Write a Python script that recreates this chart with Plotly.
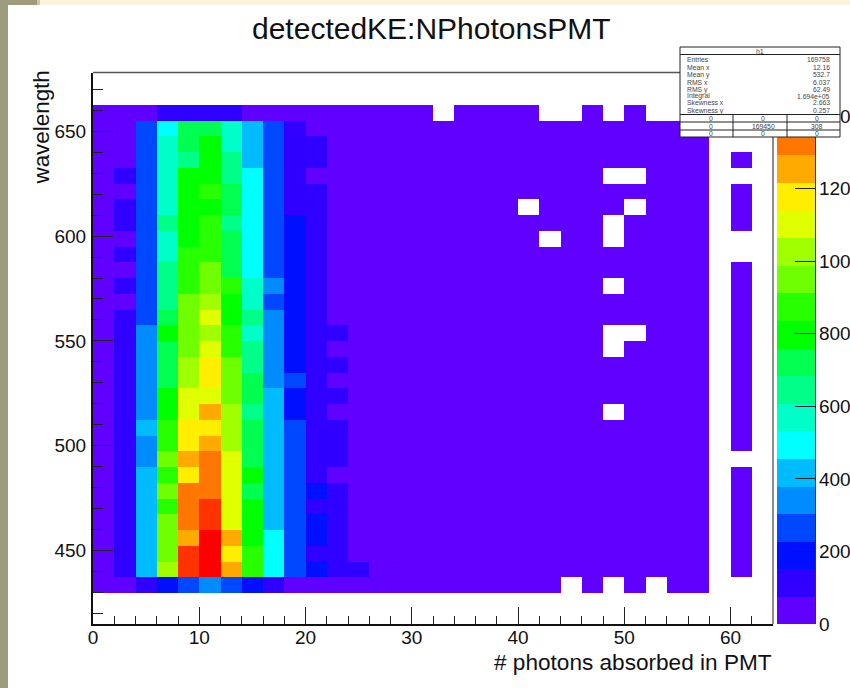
import plotly.graph_objects as go

# ---------- data ----------
wavelength_centers = [658.75, 651.25, 643.75, 636.25, 628.75, 621.25, 613.75, 606.25, 598.75, 591.25, 583.75,
                      576.25, 568.75, 561.25, 553.75, 546.25, 538.75, 531.25, 523.75, 516.25, 508.75,
                      501.25, 493.75, 486.25, 478.75, 471.25, 463.75, 456.25, 448.75, 441.25, 433.75]
photon_centers = [1, 3, 5, 7, 9, 11, 13, 15, 17, 19, 21, 23, 25, 27, 29, 31, 33, 35, 37, 39, 41, 43, 45, 47,
                  49, 51, 53, 55, 57, 59, 61]

# counts of the first 14 photon bins, one row per wavelength bin, top row first
core_counts = [
    [38, 38, 38, 114, 114, 114, 114, 38, 38, 38, 38, 38, 38, 38],
    [38, 38, 266, 494, 722, 722, 570, 418, 266, 114, 38, 38, 38, 38],
    [38, 38, 266, 570, 722, 798, 570, 418, 266, 114, 114, 38, 38, 38],
    [38, 38, 266, 570, 646, 798, 646, 418, 266, 114, 114, 38, 38, 38],
    [38, 114, 266, 570, 798, 798, 646, 494, 266, 114, 38, 38, 38, 38],
    [38, 38, 266, 570, 798, 874, 722, 494, 266, 114, 114, 38, 38, 38],
    [38, 114, 266, 570, 798, 798, 722, 494, 266, 114, 114, 38, 38, 38],
    [38, 114, 266, 646, 798, 874, 646, 494, 266, 190, 114, 38, 38, 38],
    [38, 38, 266, 570, 798, 874, 722, 494, 266, 190, 114, 38, 38, 38],
    [38, 114, 266, 570, 874, 874, 722, 494, 266, 190, 114, 38, 38, 38],
    [38, 38, 266, 646, 874, 950, 722, 494, 266, 190, 114, 38, 38, 38],
    [38, 114, 266, 646, 874, 950, 874, 570, 342, 190, 114, 38, 38, 38],
    [38, 38, 266, 646, 950, 1026, 798, 570, 266, 190, 114, 38, 38, 38],
    [38, 114, 266, 722, 950, 1102, 798, 646, 342, 190, 114, 38, 38, 38],
    [38, 114, 342, 798, 950, 1026, 874, 570, 342, 190, 114, 114, 38, 38],
    [38, 114, 342, 722, 950, 1102, 874, 646, 342, 190, 114, 38, 38, 38],
    [38, 114, 342, 722, 1026, 1178, 950, 646, 342, 190, 114, 114, 38, 38],
    [38, 114, 342, 722, 1026, 1178, 950, 722, 342, 266, 114, 38, 38, 38],
    [38, 114, 342, 798, 1102, 1102, 950, 722, 418, 190, 114, 114, 38, 38],
    [38, 114, 342, 798, 1102, 1254, 1026, 646, 418, 190, 114, 38, 38, 38],
    [38, 114, 418, 874, 1178, 1178, 1026, 722, 418, 266, 114, 114, 38, 38],
    [38, 114, 342, 874, 1178, 1254, 1026, 722, 418, 266, 114, 114, 38, 38],
    [38, 114, 342, 950, 1254, 1330, 1102, 722, 418, 266, 114, 114, 38, 38],
    [38, 114, 418, 874, 1178, 1330, 1102, 798, 418, 266, 114, 38, 38, 38],
    [38, 114, 418, 950, 1330, 1330, 1102, 722, 418, 266, 190, 114, 38, 38],
    [38, 114, 418, 874, 1330, 1406, 1102, 798, 418, 266, 114, 114, 38, 38],
    [38, 114, 418, 950, 1330, 1406, 1102, 798, 418, 266, 190, 114, 38, 38],
    [38, 114, 418, 950, 1254, 1482, 1254, 798, 494, 266, 190, 114, 38, 38],
    [38, 114, 418, 950, 1406, 1482, 1178, 874, 494, 266, 114, 114, 38, 38],
    [38, 114, 418, 1026, 1406, 1482, 1254, 874, 494, 266, 190, 114, 114, 38],
    [38, 38, 114, 190, 266, 342, 266, 190, 114, 38, 38, 38, 38, 38],
]
tail_count = 38   # the flat tail level beyond the core
# bins of the tail that are empty: wavelength row -> photon bin indexes
empty_bins = {
    0: [16, 21, 22, 24, 26, 27, 28], 4: [24, 25], 6: [20, 25], 7: [24], 8: [21, 24], 11: [24],
    14: [24, 25], 15: [24], 19: [24], 30: [22, 24, 26],
}
last_column_rows = [3, 5, 6, 7, 10, 11, 12, 13, 14, 15, 16, 17, 18, 19, 20, 21, 23, 24, 25, 26, 27, 28, 29]

band_colors = ["#6000ff", "#2f00ff", "#0010ff", "#0048ff", "#008cff", "#00bcff", "#00ffff", "#00ffc8",
               "#00ff88", "#00ff50", "#00ff00", "#28ff00", "#70ff00", "#a0ff00", "#e0ff00", "#ffee00",
               "#ffaa00", "#ff7700", "#ff3300", "#ff0000"]
palette_levels = [38, 114, 190, 266, 342, 418, 494, 570, 646, 722, 798, 874, 950, 1026, 1102, 1178, 1254, 1330,
                  1406, 1482]
palette_ticks = [0, 200, 400, 600, 800, 1000, 1200, 1400]

stat_labels = ["Entries", "Mean x", "Mean y", "RMS x", "RMS y", "Integral", "Skewness x", "Skewness y"]
stat_values = ["169758", "12.16", "532.7", "6.037", "62.49", "1.694e+05", "2.663", "0.257"]
overflow_rows = [["0", "0", "0"], ["0", "169450", "308"], ["0", "0", "0"]]

# ---------- build ----------
Z_MAX = 1520
W, H = 850, 688
z = []
for r, core in enumerate(core_counts):
    row = list(core) + [tail_count] * 15 + [None, None]
    for c in empty_bins.get(r, []):
        row[c] = None
    if r in last_column_rows:
        row[30] = tail_count
    z.append(row)

scale = []
n = len(band_colors)
for i, col in enumerate(band_colors):
    scale += [[i / n, col], [(i + 1) / n, col]]


def px(v):
    return v / W


def py(v):
    return 1 - v / H


FONT = "Liberation Sans, Arial, sans-serif"
fig = go.Figure()
fig.add_trace(go.Heatmap(x=photon_centers, y=wavelength_centers, z=z, colorscale=scale, zmin=0, zmax=Z_MAX,
                         showscale=False, xaxis="x", yaxis="y", hoverongaps=False))
fig.add_trace(go.Heatmap(x=[0], y=palette_levels, z=[[v] for v in palette_levels], colorscale=scale, zmin=0,
                         zmax=Z_MAX, showscale=False, xaxis="x2", yaxis="y2"))

shapes = []


def rect(x0, y0, x1, y1, fill, line=None, lw=0, layer="above"):
    shapes.append(dict(type="rect", xref="paper", yref="paper", x0=px(x0), x1=px(x1), y0=py(y0), y1=py(y1),
                       fillcolor=fill, line=dict(color=line or fill, width=lw), layer=layer))


def seg(x0, y0, x1, y1, color="#111111", lw=1.0):
    shapes.append(dict(type="line", xref="paper", yref="paper", x0=px(x0), x1=px(x1), y0=py(y0), y1=py(y1),
                       line=dict(color=color, width=lw), layer="above"))


# page surround
rect(0, 0, 37, 5, "#9e9c7c", layer="below")
rect(37, 0, 40, 5, "#c8c6ae", layer="below")
rect(40, 0, 850, 5, "#f9f4dd", layer="below")
rect(0, 0, 8, 688, "#9e9c7c", layer="below")
# grey frame top and right of the plot
seg(93, 72.5, 773, 72.5, "#555555", 1.5)
seg(773, 72.5, 773, 624, "#666666", 1.5)
# statistics box
rect(680, 47, 840, 137, "#ffffff", "#222222", 1)
seg(680, 54.5, 840, 54.5, "#222222", 1)
for yy in [114.5, 122, 130]:
    seg(680, yy, 840, yy, "#222222", 1)
for xx in [733, 787]:
    seg(xx, 114.5, xx, 137, "#222222", 1)

ann = []


def text(x, y, s, size, anchor="center", angle=0, valign="middle", color="#111111"):
    ann.append(dict(xref="paper", yref="paper", x=px(x), y=py(y), text=s, showarrow=False, xanchor=anchor,
                    yanchor=valign, textangle=angle, font=dict(family=FONT, size=size, color=color),
                    borderpad=0, borderwidth=0))


text(431.5, 29, "detectedKE:NPhotonsPMT", 30)
text(772, 662, "# photons absorbed in PMT", 22.6, anchor="right")
ann.append(dict(xref="paper", yref="paper", x=px(41.5), y=py(69), text="wavelength", showarrow=False, xanchor="center",
                yanchor="top", textangle=-90, font=dict(family=FONT, size=22.4, color="#111111")))
text(760, 51.2, "h1", 6.8, color="#444444")
stat_rows_y = [59.7, 67, 75, 82, 89.7, 96, 103, 110.7]
for yy, lab, val in zip(stat_rows_y, stat_labels, stat_values):
    text(687, yy, lab, 6.8, anchor="left", color="#444444")
    text(830, yy, val, 6.8, anchor="right", color="#444444")
for yy, row in zip([118.3, 126, 133.8], overflow_rows):
    for xx, val in zip([711, 763, 817], row):
        text(xx, yy, val, 6.8, color="#444444")

tickfont = dict(family=FONT, size=19, color="#111111")
fig.update_layout(
    width=W, height=H, margin=dict(l=0, r=0, t=0, b=0, pad=0), paper_bgcolor="#ffffff", plot_bgcolor="#ffffff",
    autosize=False, showlegend=False, shapes=shapes, annotations=ann,
    xaxis=dict(domain=[px(93), px(773)], range=[0, 64], dtick=10, tick0=0, ticks="inside", ticklen=17, tickwidth=1.2,
               tickcolor="#222222", minor=dict(dtick=2, ticks="inside", ticklen=8.5, tickwidth=1.2,
                                               tickcolor="#222222", showgrid=False),
               showgrid=False, zeroline=False, showline=True, linecolor="#111111", linewidth=1.5, tickfont=tickfont,
               anchor="y", ticklabelstandoff=-5, automargin=False),
    yaxis=dict(domain=[py(624), py(72.5)], range=[415, 678], dtick=50, tick0=450, ticks="inside", ticklen=20,
               tickwidth=1.2, tickcolor="#222222",
               minor=dict(dtick=10, ticks="inside", ticklen=10, tickwidth=1.2, tickcolor="#222222", showgrid=False),
               showgrid=False, zeroline=False, showline=True, linecolor="#111111", linewidth=2, tickfont=tickfont,
               anchor="x", ticklabelstandoff=1, automargin=False),
    xaxis2=dict(domain=[px(777), px(815)], visible=False, range=[-0.5, 0.5], anchor="y2", automargin=False),
    yaxis2=dict(domain=[py(624), py(72.5)], range=[0, Z_MAX], side="right", anchor="x2", tickvals=palette_ticks,
                ticks="inside", ticklen=20, tickwidth=1.2, tickcolor="#222222", showgrid=False, zeroline=False,
                showline=True, linecolor="#333333", linewidth=1.2, tickfont=tickfont, ticklabelstandoff=-1,
                tickformat="d", automargin=False),
)
css = ("document.documentElement.style.margin='0';document.documentElement.style.padding='0';"
       "document.documentElement.style.overflow='hidden';"
       "document.body.style.margin='0';document.body.style.padding='0';document.body.style.overflow='hidden';"
       "var g=document.getElementById('{plot_id}');g.style.position='fixed';g.style.left='0';g.style.top='0';")
fig.write_html("out.html", config=dict(displayModeBar=False, responsive=False), post_script=css)
